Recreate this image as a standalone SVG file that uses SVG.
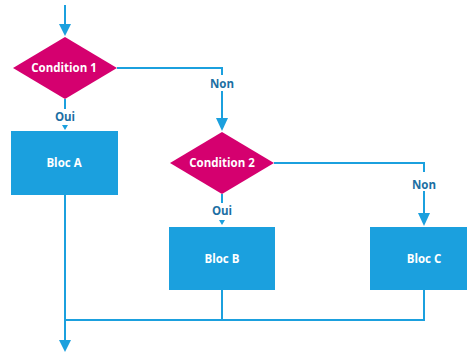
<svg xmlns="http://www.w3.org/2000/svg" width="467" height="356" viewBox="0 0 467 356">
<defs>
<style>
.ln{fill:none;stroke:#1ba0de;stroke-width:2}
.dia{fill:#d5006f}
.box{fill:#1ba0de}
.nt{font-family:"Open Sans","Liberation Sans",sans-serif;font-weight:bold;font-size:11.5px;fill:#fff;text-anchor:middle}
.lb{font-family:"Open Sans","Liberation Sans",sans-serif;font-weight:bold;font-size:11.5px;fill:#1c6fa3;text-anchor:middle}
.ah{fill:#1ba0de}
</style>
</defs>
<rect width="467" height="356" fill="#fff"/>
<g id="connectors">
<path class="ln" d="M65 5V26"/>
<polygon class="ah" points="59,24 71,24 65,36"/>
<path class="ln" d="M117 68H222V75"/>
<path class="ln" d="M222 91V120"/>
<polygon class="ah" points="216,118 228,118 222,131"/>
<path class="ln" d="M65 99V109"/>
<polygon class="ah" points="62,125 68,125 65,130"/>
<path class="ln" d="M274 163H424V172"/>
<path class="ln" d="M424 191V215"/>
<polygon class="ah" points="418,213 430,213 424,226"/>
<path class="ln" d="M222 194V203"/>
<polygon class="ah" points="219,220 225,220 222,225"/>
<path class="ln" d="M65 195V342"/>
<polygon class="ah" points="59,340 71,340 65,352"/>
<path class="ln" d="M65 320H424V290"/>
<path class="ln" d="M222 290V320"/>
<text class="lb" x="222" y="88">Non</text>
<text class="lb" x="65" y="121">Oui</text>
<text class="lb" x="424" y="189">Non</text>
<text class="lb" x="222" y="215">Oui</text>
</g>
<g id="cond1">
<polygon class="dia" points="13,68 65,37 117,68 65,99"/>
<text class="nt" x="64" y="72">Condition 1</text>
</g>
<g id="cond2">
<polygon class="dia" points="170,163 222,132 274,163 222,194"/>
<text class="nt" x="222" y="167">Condition 2</text>
</g>
<g id="blocA">
<rect class="box" x="11" y="131" width="107" height="64"/>
<text class="nt" x="64" y="167">Bloc A</text>
</g>
<g id="blocB">
<rect class="box" x="169" y="227" width="106" height="63"/>
<text class="nt" x="222" y="263">Bloc B</text>
</g>
<g id="blocC">
<rect class="box" x="370" y="227" width="108" height="63"/>
<text class="nt" x="424" y="263">Bloc C</text>
</g>
</svg>
